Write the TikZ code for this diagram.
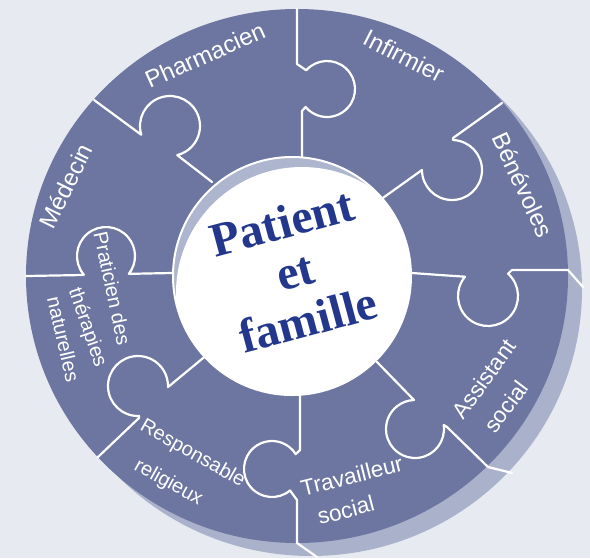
\documentclass[tikz,border=0pt]{standalone}
\usepackage{fontspec}
\setmainfont{Liberation Sans}
\newfontfamily\serifb{Liberation Serif}
\definecolor{bgcol}{RGB}{231,234,240}
\definecolor{ringcol}{RGB}{108,118,160}
\definecolor{shadcol}{RGB}{170,177,203}
\definecolor{crescol}{RGB}{174,181,206}
\definecolor{txtblue}{RGB}{35,56,140}
\begin{document}
\begin{tikzpicture}[x=1pt,y=-1pt,
  divider/.style={draw=white, line width=2.2pt, line join=round, line cap=round},
  lbl/.style={text=white, inner sep=0pt, anchor=center},
  big/.style={lbl, font=\fontsize{24}{28}\selectfont},
  mid/.style={lbl, font=\fontsize{22.5}{27}\selectfont},
  small/.style={lbl, font=\fontsize{20}{24}\selectfont}]
\useasboundingbox (0,0) rectangle (590,558);
\fill[bgcol] (0,0) rectangle (590,558);
% shadow and ring
\fill[shadcol] (311,289) ellipse [x radius=271, y radius=267];
\fill[ringcol] (297,276) ellipse [x radius=271, y radius=267];
% dividers (puzzle cuts)
\draw[divider] (94,100) -- ([shift={(170,126)}]163:30) arc[start angle=163, end angle=436, radius=30] -- (212,182);
\draw[divider] (297,9) -- (297,64) -- ([shift={(327,89)}]222:28) arc[start angle=222, end angle=500, radius=28] -- (302,111) -- (302,157);
\draw[divider] (502,103) -- (453,138) -- ([shift={(452,170)}]272:30) arc[start angle=272, end angle=540, radius=30] -- (380,200);
\draw[divider] (583,287) -- (568,270) -- (512,270) -- ([shift={(488,296)}]312:30) arc[start angle=312, end angle=580, radius=30] -- (440,275) -- (412,273);
\draw[divider] (512,473) -- (488,467) -- (447,427) -- ([shift={(415,429)}]352:29) arc[start angle=352, end angle=628, radius=29] -- (377,362);
\draw[divider] (317,557) -- (297,543) -- (297,500) -- ([shift={(272,469)}]50:28) arc[start angle=50, end angle=328, radius=28] -- (300,450) -- (300,393);
\draw[divider] (98,457) -- (139,418) -- ([shift={(138,386)}]88:30) arc[start angle=88, end angle=362, radius=30] -- (208,354);
\draw[divider] (26,276) -- (83,275) -- ([shift={(106,256)}]140:29) arc[start angle=140, end angle=398, radius=29] -- (172,273);
% centre disc
\begin{scope}
  \fill[crescol] (292,276) circle [radius=119];
  \clip (292,276) circle [radius=119];
  \fill[white] (302,293) circle [radius=126];
\end{scope}
\draw[white, line width=2pt] (292,276) circle [radius=119];
% labels
\node[big, rotate=24] (pharm) at (205,55) {Pharmacien};
\node[big, rotate=-27] (infir) at (404,56) {Infirmier};
\node[big, rotate=-65] (benev) at (523,185) {Bénévoles};
\node[big, rotate=64] (medec) at (66,186) {Médecin};
\node[small, rotate=-78] (prat1) at (112.5,288.5) {Praticien des};
\node[small, rotate=-71] (prat2) at (87,327.5) {thérapies};
\node[small, rotate=-77] (prat3) at (63.5,339) {naturelles};
\node[small, rotate=-29.5] (resp1) at (192.5,454) {Responsable};
\node[small, rotate=-29] (resp2) at (168.3,483) {religieux};
\node[mid, rotate=14] (trav1) at (351.7,475.7) {Travailleur};
\node[mid, rotate=14.5] (trav2) at (345.8,510) {social};
\node[mid, rotate=54] (assi1) at (484,379) {Assistant};
\node[mid, rotate=53] (assi2) at (506,406.5) {social};
\node[inner sep=0pt, rotate=15, align=center, text=txtblue,
      font=\serifb\bfseries\fontsize{48}{50.5}\selectfont] (centre) at (295,271) {Patient\\et\\famille};
\end{tikzpicture}
\end{document}
